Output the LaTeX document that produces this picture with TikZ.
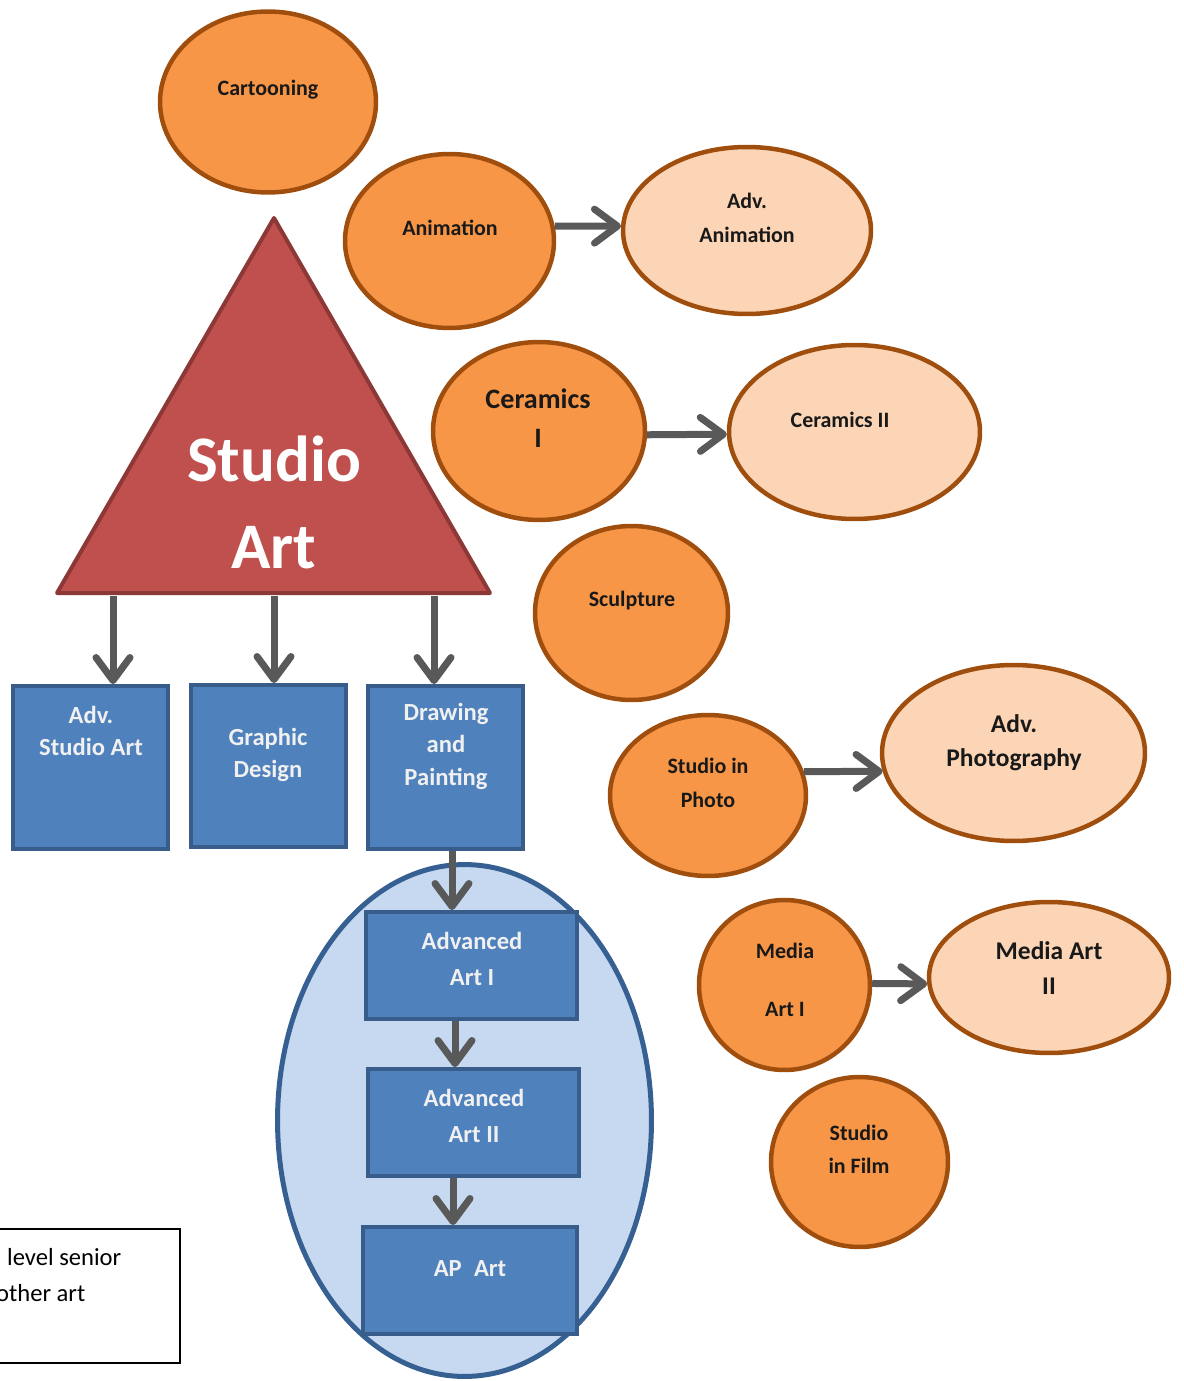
\documentclass[tikz,border=0pt]{standalone}
\usepackage{fontspec}
\setmainfont{Carlito}
\usetikzlibrary{shapes.geometric,arrows.meta}
\definecolor{orangefill}{RGB}{247,150,70}
\definecolor{orangeline}{RGB}{160,78,14}
\definecolor{peachfill}{RGB}{251,213,181}
\definecolor{redfill}{RGB}{192,80,77}
\definecolor{redline}{RGB}{140,56,54}
\definecolor{bluefill}{RGB}{79,129,189}
\definecolor{blueline}{RGB}{56,93,138}
\definecolor{palefill}{RGB}{198,217,241}
\definecolor{paleline}{RGB}{55,96,146}
\definecolor{arrowgray}{RGB}{89,89,89}
\tikzset{
  course/.style={ellipse,draw=orangeline,fill=orangefill,line width=0.09cm},
  nextcourse/.style={course,fill=peachfill},
  classbox/.style={rectangle,draw=blueline,fill=bluefill,line width=0.08cm},
  otext/.style={font=\fontsize{12.5}{19}\selectfont\bfseries,align=center,text=black!90},
  obigtext/.style={font=\fontsize{14.5}{19.5}\selectfont\bfseries,align=center,text=black!90},
  btext/.style={font=\fontsize{14}{18.5}\selectfont\bfseries,align=center,text=white!94!black},
  flow/.style={draw=arrowgray,line width=0.14cm,-{Straight Barb[length=0.46cm,width=0.68cm,round]}}
}
\begin{document}
\begin{tikzpicture}[x=0.02cm,y=-0.02cm]
\useasboundingbox (0,0) rectangle (1183,1381);
\clip (0,0) rectangle (1183,1381);
% electives
\draw (268,102) node[course,minimum width=4.32cm,minimum height=3.62cm](cartooning) {};
\draw (449.5,241) node[course,minimum width=4.18cm,minimum height=3.48cm](animation) {};
\draw (747,230.5) node[nextcourse,minimum width=4.96cm,minimum height=3.34cm](advanimation) {};
\draw (539,431) node[course,minimum width=4.24cm,minimum height=3.56cm](ceramicsone) {};
\draw (854.5,432) node[nextcourse,minimum width=5.02cm,minimum height=3.48cm](ceramicstwo) {};
\draw (631.5,613) node[course,minimum width=3.86cm,minimum height=3.48cm](sculpture) {};
\draw (708,795.5) node[course,minimum width=3.92cm,minimum height=3.22cm](photo) {};
\draw (1013.5,753) node[nextcourse,minimum width=5.26cm,minimum height=3.52cm](advphoto) {};
\draw (784.5,985) node[course,minimum width=3.42cm,minimum height=3.40cm](mediaone) {};
\draw (1049,977.5) node[nextcourse,minimum width=4.80cm,minimum height=3.02cm](mediatwo) {};
\draw (859.5,1162) node[course,minimum width=3.54cm,minimum height=3.40cm](film) {};
\draw (268,90) node[otext](cartooningtext) {Cartooning};
\draw (450,228) node[otext](animationtext) {Animation};
\draw (747,218) node[otext](advanimationtext) {Adv.\\Animation};
\draw (538,418) node[obigtext,font=\fontsize{16}{22}\selectfont\bfseries](ceramicsonetext) {Ceramics\\I};
\draw (840,420) node[otext](ceramicstwotext) {Ceramics II};
\draw (632,601) node[otext](sculpturetext) {Sculpture};
\draw (708,783) node[otext](phototext) {Studio in\\Photo};
\draw (1014,743) node[obigtext](advphototext) {Adv.\\Photography};
\draw (785,980) node[otext,font=\fontsize{12.5}{33}\selectfont\bfseries](mediaonetext) {Media\\Art I};
\draw (1049,968) node[obigtext](mediatwotext) {Media Art\\II};
\draw (859,1149) node[otext](filmtext) {Studio\\in Film};
% studio art
\draw[fill=redfill,draw=redline,line width=0.08cm,line join=round] (274,218) -- (490,593) -- (57,593) -- cycle;
\draw (274,502) node[font=\fontsize{37}{49.5}\selectfont\bfseries,text=white,align=center](studioart) {Studio\\Art};
\coordinate (baseone) at (113,596);
\coordinate (basetwo) at (274,596);
\coordinate (basethree) at (434,596);
\draw (90.5,767.5) node[classbox,minimum width=3.10cm,minimum height=3.26cm](advstudio) {};
\draw (268.5,766) node[classbox,minimum width=3.10cm,minimum height=3.24cm](graphic) {};
\draw (445.5,767.5) node[classbox,minimum width=3.10cm,minimum height=3.26cm](drawing) {};
\draw (91,731) node[btext](advstudiotext) {Adv.\\Studio Art};
\draw (268,755) node[btext](graphictext) {Graphic\\Design};
\draw (446,746) node[btext](drawingtext) {Drawing\\and\\Painting};
% senior sequence
\draw (464.5,1120.5) node[ellipse,draw=paleline,fill=palefill,line width=0.1cm,minimum width=7.48cm,minimum height=10.24cm](senior) {};
\draw (471.5,965.5) node[classbox,minimum width=4.22cm,minimum height=2.14cm](artone) {};
\draw (473.5,1122.5) node[classbox,minimum width=4.22cm,minimum height=2.14cm](arttwo) {};
\draw (470,1280.5) node[classbox,minimum width=4.28cm,minimum height=2.14cm](apart) {};
\draw (472,959) node[btext,font=\fontsize{14}{20.5}\selectfont\bfseries](artonetext) {Advanced\\Art I};
\draw (474,1116) node[btext,font=\fontsize{14}{20.5}\selectfont\bfseries](arttwotext) {Advanced\\Art II};
\draw (470,1269) node[btext](aparttext) {AP\enspace Art};
\coordinate (dropone) at (452,0);
\coordinate (droptwo) at (455,0);
\coordinate (dropthree) at (453,0);
% legend
\draw (80,1296) node[draw,line width=0.04cm,minimum width=4cm,minimum height=2.68cm](legend) {};
\draw (1,1257) node[anchor=west,font=\fontsize{14}{20}\selectfont](legendone) {level senior};
\draw (-10,1293) node[anchor=west,font=\fontsize{14}{20}\selectfont](legendtwo) {other art};
% arrows
\draw[flow] (baseone) -- (baseone |- advstudio.north);
\draw[flow] (basetwo) -- (basetwo |- graphic.north);
\draw[flow] (basethree) -- (basethree |- drawing.north);
\draw[flow] (drawing.south -| dropone) -- (artone.north -| dropone);
\draw[flow] (artone.south -| droptwo) -- (arttwo.north -| droptwo);
\draw[flow] (arttwo.south -| dropthree) -- (apart.north -| dropthree);
\draw[flow] (animation.8) -- (advanimation.178);
\draw[flow] (ceramicsone.358) -- (ceramicstwo.181);
\draw[flow] (photo.14) -- (advphoto.188);
\draw[flow] (mediaone.1) -- (mediatwo.183);
\end{tikzpicture}
\end{document}
